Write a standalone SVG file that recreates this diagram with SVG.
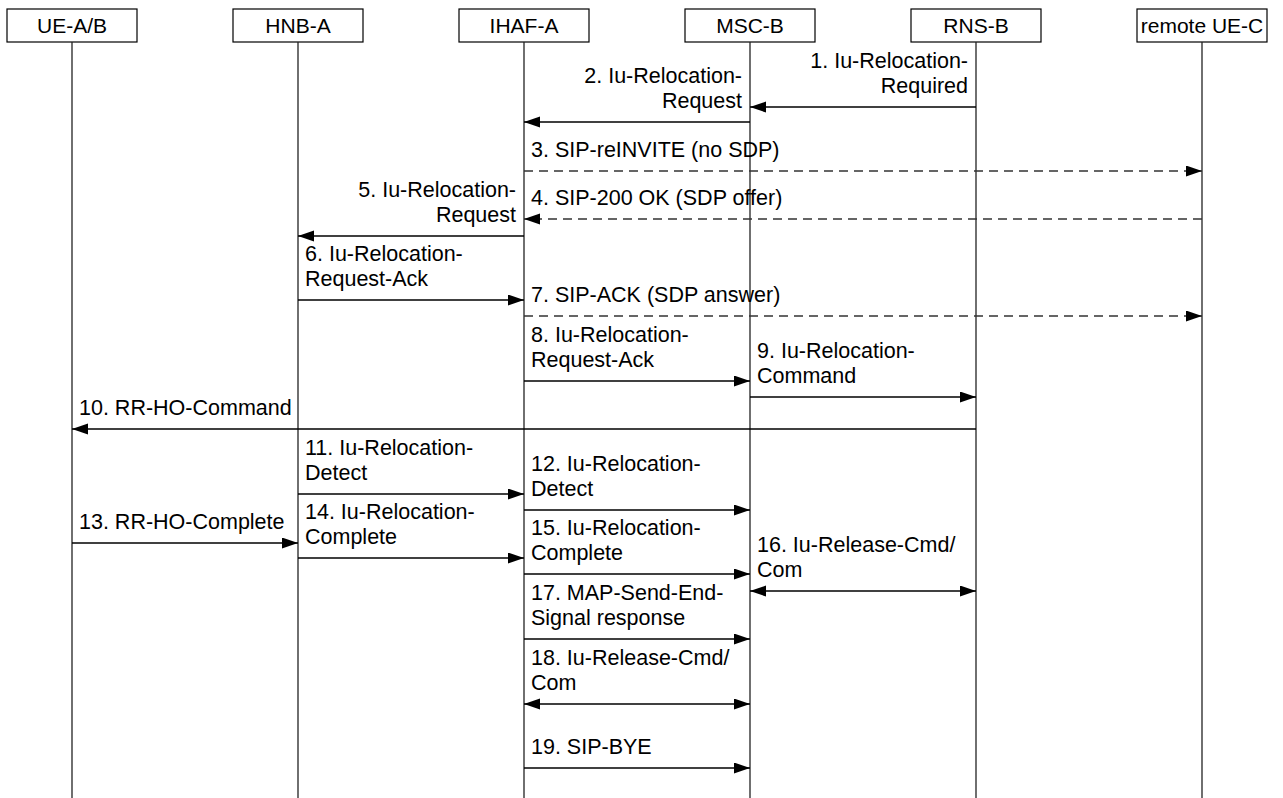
<svg xmlns="http://www.w3.org/2000/svg" width="1283" height="798" viewBox="0 0 1283 798">
<style>
  .box { fill: #fff; stroke: #000; stroke-width: 1.2; }
  .life { stroke: #222; stroke-width: 1.3; fill: none; }
  .msg { stroke: #000; stroke-width: 1.3; fill: none; marker-end: url(#ah); }
  .bi { marker-start: url(#ah); }
  .dash { stroke: #333; stroke-dasharray: 9 6; }
  text { font-family: "Liberation Sans", Arial, sans-serif; font-size: 21.5px; fill: #000; }
  .hdr { text-anchor: middle; font-size: 21px; }
  .end { text-anchor: end; }
</style>
<defs>
  <marker id="ah" markerUnits="userSpaceOnUse" markerWidth="17" markerHeight="12" refX="16" refY="5.5" orient="auto-start-reverse">
    <path d="M0,0 L16,5.5 L0,11 Z" fill="#000"/>
  </marker>
</defs>
<rect width="1283" height="798" fill="#fff"/>

<g id="ue-ab">
  <rect class="box" x="7" y="9" width="130" height="33"/>
  <text class="hdr" x="72" y="33">UE-A/B</text>
  <line class="life" x1="72" y1="42" x2="72" y2="798"/>
</g>
<g id="hnb-a">
  <rect class="box" x="233" y="9" width="130" height="33"/>
  <text class="hdr" x="298" y="33">HNB-A</text>
  <line class="life" x1="298" y1="42" x2="298" y2="798"/>
</g>
<g id="ihaf-a">
  <rect class="box" x="459" y="9" width="130" height="33"/>
  <text class="hdr" x="524" y="33">IHAF-A</text>
  <line class="life" x1="524" y1="42" x2="524" y2="798"/>
</g>
<g id="msc-b">
  <rect class="box" x="685" y="9" width="130" height="33"/>
  <text class="hdr" x="750" y="33">MSC-B</text>
  <line class="life" x1="750" y1="42" x2="750" y2="798"/>
</g>
<g id="rns-b">
  <rect class="box" x="911" y="9" width="130" height="33"/>
  <text class="hdr" x="976" y="33">RNS-B</text>
  <line class="life" x1="976" y1="42" x2="976" y2="798"/>
</g>
<g id="remote-ue-c">
  <rect class="box" x="1137" y="9" width="130" height="33"/>
  <text class="hdr" x="1202" y="33">remote UE-C</text>
  <line class="life" x1="1202" y1="42" x2="1202" y2="798"/>
</g>

<g id="connectors">
  <line class="msg" x1="976" y1="107" x2="750" y2="107"/>
  <line class="msg" x1="750" y1="122" x2="524" y2="122"/>
  <line class="msg dash" x1="524" y1="171" x2="1202" y2="171"/>
  <line class="msg dash" x1="1202" y1="219" x2="524" y2="219"/>
  <line class="msg" x1="524" y1="236" x2="298" y2="236"/>
  <line class="msg" x1="298" y1="300" x2="524" y2="300"/>
  <line class="msg dash" x1="524" y1="316" x2="1202" y2="316"/>
  <line class="msg" x1="524" y1="381" x2="750" y2="381"/>
  <line class="msg" x1="750" y1="397" x2="976" y2="397"/>
  <line class="msg" x1="976" y1="429" x2="72" y2="429"/>
  <line class="msg" x1="298" y1="494" x2="524" y2="494"/>
  <line class="msg" x1="524" y1="510" x2="750" y2="510"/>
  <line class="msg" x1="72" y1="543" x2="298" y2="543"/>
  <line class="msg" x1="298" y1="558" x2="524" y2="558"/>
  <line class="msg" x1="524" y1="574" x2="750" y2="574"/>
  <line class="msg bi" x1="750" y1="591" x2="976" y2="591"/>
  <line class="msg" x1="524" y1="639" x2="750" y2="639"/>
  <line class="msg bi" x1="524" y1="704" x2="750" y2="704"/>
  <line class="msg" x1="524" y1="768" x2="750" y2="768"/>
</g>

<g id="labels">
  <text class="end" x="968" y="68">1. Iu-Relocation-</text>
  <text class="end" x="968" y="93">Required</text>
  <text class="end" x="742" y="83">2. Iu-Relocation-</text>
  <text class="end" x="742" y="108">Request</text>
  <text x="531" y="157">3. SIP-reINVITE (no SDP)</text>
  <text x="531" y="205">4. SIP-200 OK (SDP offer)</text>
  <text class="end" x="516" y="197">5. Iu-Relocation-</text>
  <text class="end" x="516" y="222">Request</text>
  <text x="305" y="261">6. Iu-Relocation-</text>
  <text x="305" y="286">Request-Ack</text>
  <text x="531" y="302">7. SIP-ACK (SDP answer)</text>
  <text x="531" y="342">8. Iu-Relocation-</text>
  <text x="531" y="367">Request-Ack</text>
  <text x="757" y="358">9. Iu-Relocation-</text>
  <text x="757" y="383">Command</text>
  <text x="79" y="415">10. RR-HO-Command</text>
  <text x="305" y="455">11. Iu-Relocation-</text>
  <text x="305" y="480">Detect</text>
  <text x="531" y="471">12. Iu-Relocation-</text>
  <text x="531" y="496">Detect</text>
  <text x="79" y="529">13. RR-HO-Complete</text>
  <text x="305" y="519">14. Iu-Relocation-</text>
  <text x="305" y="544">Complete</text>
  <text x="531" y="535">15. Iu-Relocation-</text>
  <text x="531" y="560">Complete</text>
  <text x="757" y="552">16. Iu-Release-Cmd/</text>
  <text x="757" y="577">Com</text>
  <text x="531" y="600">17. MAP-Send-End-</text>
  <text x="531" y="625">Signal response</text>
  <text x="531" y="665">18. Iu-Release-Cmd/</text>
  <text x="531" y="690">Com</text>
  <text x="531" y="754">19. SIP-BYE</text>
</g>
</svg>
